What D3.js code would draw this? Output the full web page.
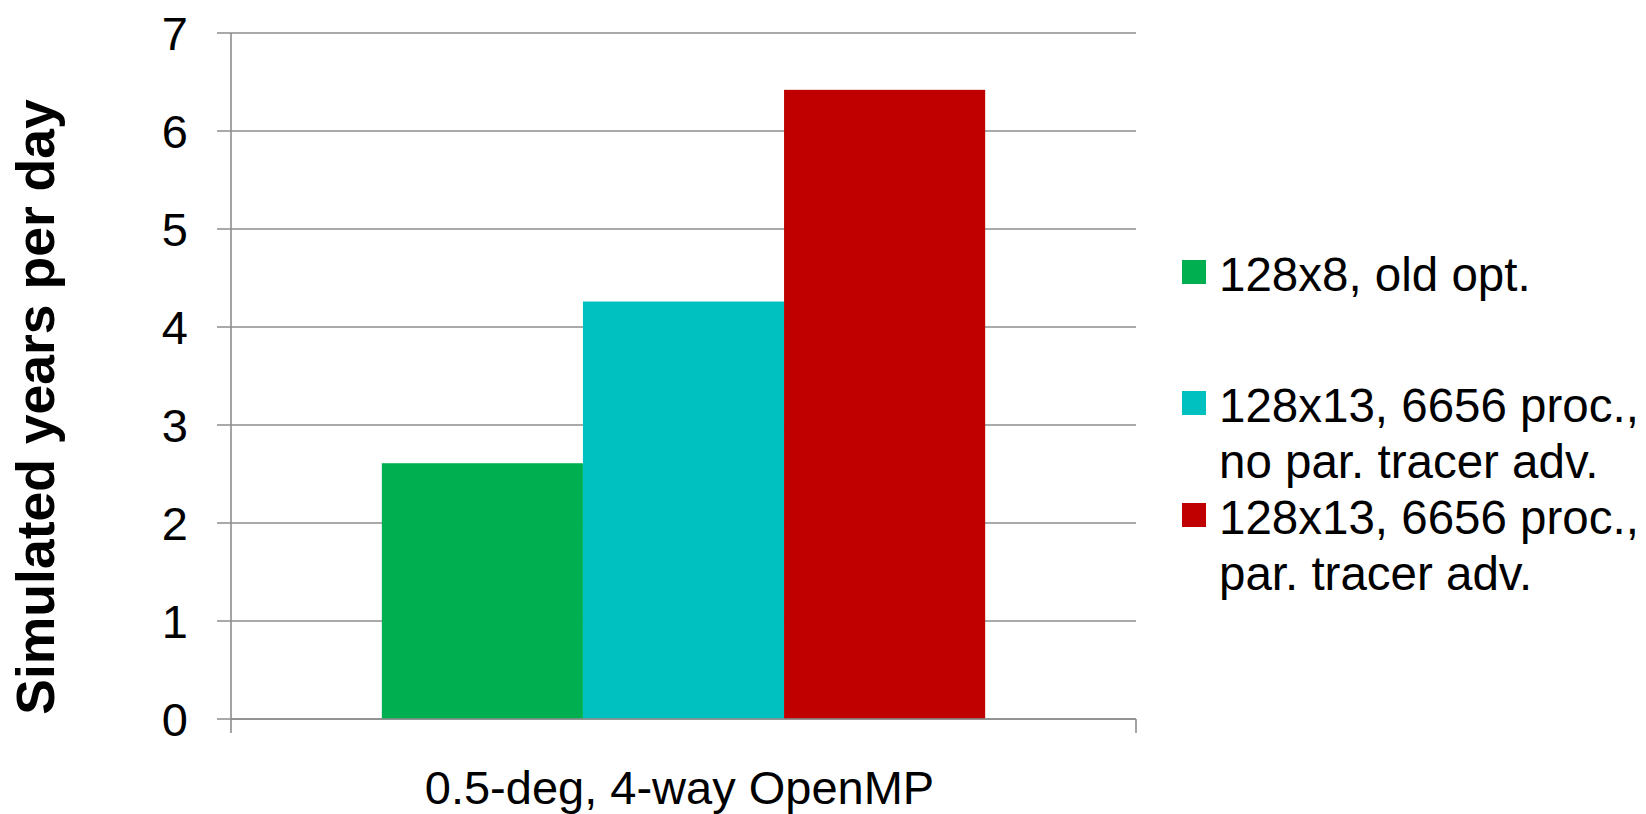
<!DOCTYPE html>
<html lang="en">
<head>
    <meta charset="UTF-8">
    <title>Simulated years per day</title>
    <script src="https://d3js.org/d3.v7.min.js"></script>
    <style>
        body { margin: 0; background: #fff; }
        svg text { font-family: "Liberation Sans", Arial, sans-serif; fill: #000; }
    </style>
</head>
<body>
<svg id="chart" width="1646" height="814"></svg>
<script>
// data
const categories = ["0.5-deg, 4-way OpenMP"];
const seriesNames = ["128x8, old opt.", "128x13, 6656 proc., no par. tracer adv.", "128x13, 6656 proc., par. tracer adv."];
const legendLines = [["128x8, old opt."], ["128x13, 6656 proc.,", "no par. tracer adv."], ["128x13, 6656 proc.,", "par. tracer adv."]];
const seriesValues = [[2.61], [4.26], [6.42]];
const seriesColors = ["#00b050", "#00c0c0", "#c00000"];
const yTicks = [0, 1, 2, 3, 4, 5, 6, 7];

const svg = d3.select("#chart");
const plot = {left: 231, right: 1136, top: 33, bottom: 719};
const gridColor = "#8c8c8c";

const y = d3.scaleLinear().domain([0, 7]).range([plot.bottom, plot.top]);
const x0 = d3.scaleBand().domain(categories).range([plot.left, plot.right]).padding(0);
const x1 = d3.scaleBand().domain(d3.range(seriesNames.length))
    .range([0, x0.bandwidth()]).paddingInner(0).paddingOuter(0.75);

// gridlines (with the little tick sticking out on the left)
svg.append("g").selectAll("line")
    .data(yTicks)
    .enter().append("line")
    .attr("x1", plot.left - 14)
    .attr("x2", plot.right)
    .attr("y1", d => y(d))
    .attr("y2", d => y(d))
    .attr("stroke", gridColor)
    .attr("stroke-width", 1.6);

// bars
categories.forEach((cat, ci) => {
    svg.append("g").selectAll("rect")
        .data(seriesValues.map((v, i) => ({i: i, v: v[ci]})))
        .enter().append("rect")
        .attr("x", d => x0(cat) + x1(d.i))
        .attr("width", x1.bandwidth())
        .attr("y", d => y(d.v))
        .attr("height", d => y(0) - y(d.v))
        .attr("fill", d => seriesColors[d.i]);
});

// axis lines and category ticks
const axisLines = [
    [plot.left, plot.top, plot.left, plot.bottom + 14],
    [plot.left, plot.bottom, plot.right, plot.bottom],
    [plot.right, plot.bottom, plot.right, plot.bottom + 14]
];
svg.append("g").selectAll("line")
    .data(axisLines)
    .enter().append("line")
    .attr("x1", d => d[0]).attr("y1", d => d[1])
    .attr("x2", d => d[2]).attr("y2", d => d[3])
    .attr("stroke", gridColor).attr("stroke-width", 1.6);

// y tick labels
svg.append("g").selectAll("text")
    .data(yTicks)
    .enter().append("text")
    .attr("x", 188)
    .attr("y", d => y(d))
    .attr("dy", "0.36em")
    .attr("text-anchor", "end")
    .style("font-size", "47px")
    .text(d => d);

// category label
svg.append("g").selectAll("text")
    .data(categories)
    .enter().append("text")
    .attr("x", d => x0(d) + x0.bandwidth() / 2 - 4)
    .attr("y", 804)
    .attr("text-anchor", "middle")
    .style("font-size", "47px")
    .text(d => d);

// y axis title
svg.append("text")
    .attr("transform", "translate(54, 407) rotate(-90)")
    .attr("text-anchor", "middle")
    .style("font-size", "53.5px")
    .style("font-weight", "bold")
    .text("Simulated years per day");

// legend
const legendOffsets = [0, 131, 243];
const legend = svg.append("g").attr("transform", "translate(1182, 272)");
const item = legend.selectAll("g")
    .data(legendLines)
    .enter().append("g")
    .attr("transform", (d, i) => `translate(0, ${legendOffsets[i]})`);
item.append("rect")
    .attr("x", 0).attr("y", -12)
    .attr("width", 24).attr("height", 24)
    .attr("fill", (d, i) => seriesColors[i]);
item.selectAll("text")
    .data(d => d)
    .enter().append("text")
    .attr("x", 37)
    .attr("y", (d, j) => j * 56)
    .attr("dy", "0.4em")
    .style("font-size", "47.5px")
    .text(d => d);
</script>
</body>
</html>
